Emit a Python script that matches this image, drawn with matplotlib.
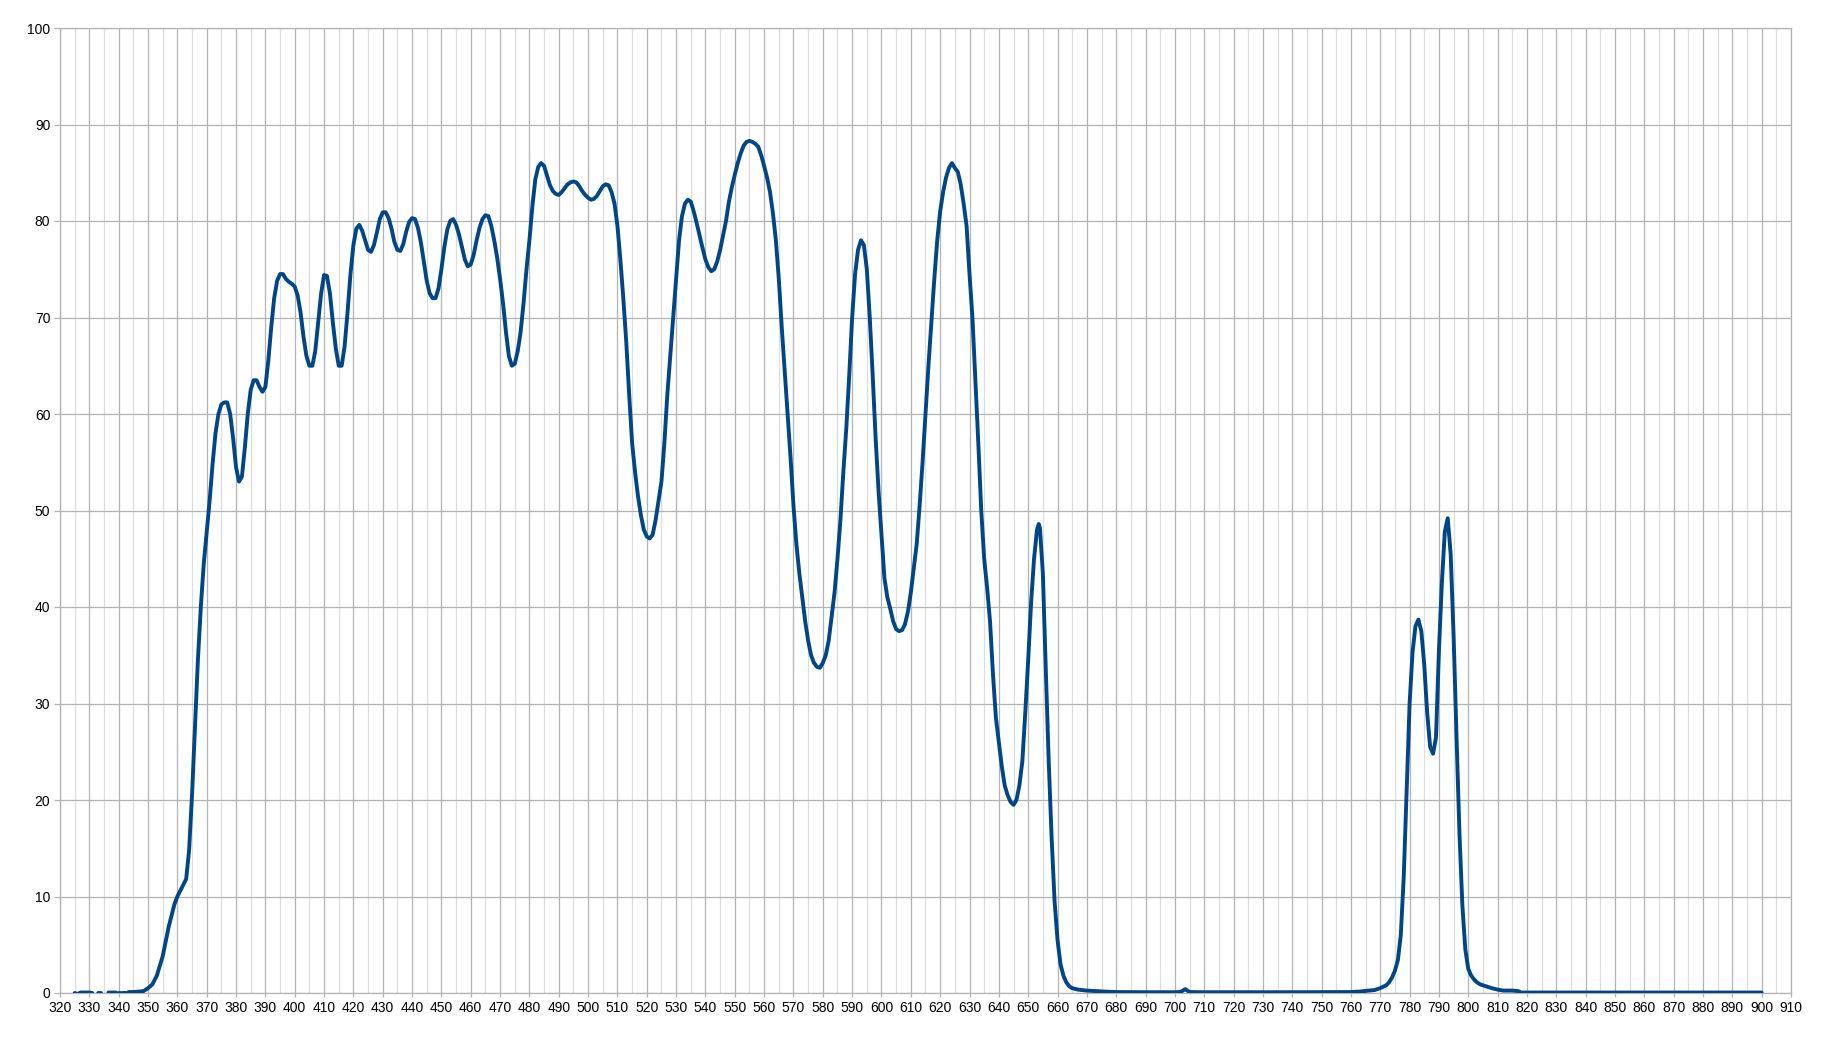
import numpy as np
import matplotlib.pyplot as plt

plt.rcParams['font.family'] = ['Liberation Sans', 'DejaVu Sans']

# wavelength (nm) and transmission (%), nan = gap in the record
wavelength = [325, 326, 327, 328, 329, 330, 331, 332, 333, 334, 335, 336.5, 337, 338, 339, 339.5,
              340, 340.6, 341, 341.4, 342.5, 343, 343.4, 345, 347, 348.5, 350, 351.5, 353, 354,
              355, 356, 357, 358, 359, 360, 361, 362, 363, 364, 365, 366, 367, 368, 369,
              370, 371, 372, 373, 374, 375, 376, 377, 378, 379, 380, 381, 382, 383, 384,
              385, 386, 387, 388, 389, 390, 391, 392, 393, 394, 395, 396, 397, 398, 399,
              400, 401, 402, 403, 404, 405, 406, 407, 408, 409, 410, 411, 412, 413, 414,
              415, 416, 417, 418, 419, 420, 421, 422, 423, 424, 425, 426, 427, 428, 429,
              430, 431, 432, 433, 434, 435, 436, 437, 438, 439, 440, 441, 442, 443, 444,
              445, 446, 447, 448, 449, 450, 451, 452, 453, 454, 455, 456, 457, 458, 459,
              460, 461, 462, 463, 464, 465, 466, 467, 468, 469, 470, 471, 472, 473, 474,
              475, 476, 477, 478, 479, 480, 481, 482, 483, 484, 485, 486, 487, 488, 489,
              490, 491, 492, 493, 494, 495, 496, 497, 498, 499, 500, 501, 502, 503, 504,
              505, 506, 507, 508, 509, 510, 511, 512, 513, 514, 515, 516, 517, 518, 519,
              520, 521, 522, 523, 524, 525, 526, 527, 528, 529, 530, 531, 532, 533, 534,
              535, 536, 537, 538, 539, 540, 541, 542, 543, 544, 545, 546, 547, 548, 549,
              550, 551, 552, 553, 554, 555, 556, 557, 558, 559, 560, 561, 562, 563, 564,
              565, 566, 567, 568, 569, 570, 571, 572, 573, 574, 575, 576, 577, 578, 579,
              580, 581, 582, 583, 584, 585, 586, 587, 588, 589, 590, 591, 592, 593, 594,
              595, 596, 597, 598, 599, 600, 601, 602, 603, 604, 605, 606, 607, 608, 609,
              610, 611, 612, 613, 614, 615, 616, 617, 618, 619, 620, 621, 622, 623, 624,
              625, 626, 627, 628, 629, 630, 631, 632, 633, 634, 635, 636, 637, 638, 639,
              640, 641, 642, 643, 644, 645, 646, 647, 648, 649, 650, 651, 652, 653, 653.6,
              654, 655, 656, 657, 658, 659, 660, 661, 662, 663, 664, 665, 667, 670, 673,
              676, 680, 690, 700, 702, 703.5, 705, 710, 720, 740, 760, 763, 766, 768, 770,
              772, 773, 774, 775, 776, 777, 778, 779, 780, 781, 782, 783, 784, 785, 786,
              787, 788, 789, 790, 791, 792, 793, 794, 795, 796, 797, 798, 799, 800, 801,
              802, 803, 804, 806, 808, 810, 812, 815, 817, 818, 900]

transmission = [0.0, -0.1, 0.05, 0.05, 0.05, 0.05, 0.0, np.nan, 0.0, 0.0, np.nan, 0.05, 0.05, 0.05, 0.05, np.nan,
                0.0, 0.0, np.nan, 0.0, 0.0, np.nan, 0.1, 0.1, 0.15, 0.2, 0.5, 0.9, 1.8, 2.8,
                3.8, 5.3, 6.8, 8.0, 9.2, 10.0, 10.6, 11.2, 11.8, 14.8, 20.5, 27.5, 34.5, 40.0, 44.5,
                47.7, 51.0, 54.8, 58.0, 60.0, 61.0, 61.2, 61.2, 60.0, 57.5, 54.5, 53.0, 53.5, 56.5, 60.0,
                62.5, 63.5, 63.5, 62.8, 62.3, 62.8, 65.5, 69.0, 72.0, 73.8, 74.5, 74.5, 74.0, 73.7, 73.5,
                73.2, 72.3, 70.5, 68.0, 66.0, 65.0, 65.0, 66.5, 69.5, 72.5, 74.4, 74.3, 72.5, 69.5, 66.8,
                65.0, 65.0, 67.0, 70.5, 74.5, 77.5, 79.2, 79.6, 79.0, 78.0, 77.0, 76.8, 77.5, 78.8, 80.2,
                80.9, 80.9, 80.3, 79.2, 77.8, 77.0, 76.9, 77.6, 78.9, 79.9, 80.3, 80.2, 79.3, 77.8, 75.8,
                73.8, 72.5, 72.0, 72.0, 73.0, 75.0, 77.3, 79.1, 80.0, 80.2, 79.6, 78.6, 77.3, 76.0, 75.3,
                75.5, 76.5, 78.0, 79.3, 80.2, 80.6, 80.5, 79.5, 78.0, 76.2, 74.0, 71.5, 68.5, 66.0, 65.0,
                65.2, 66.5, 68.5, 71.5, 75.0, 78.0, 81.5, 84.3, 85.6, 86.0, 85.7, 84.7, 83.7, 83.1, 82.8,
                82.7, 83.0, 83.4, 83.8, 84.0, 84.1, 84.0, 83.6, 83.1, 82.7, 82.4, 82.2, 82.3, 82.6, 83.1,
                83.6, 83.8, 83.7, 83.0, 81.8, 79.5, 76.0, 72.0, 67.5, 62.0, 57.0, 54.0, 51.5, 49.5, 48.0,
                47.3, 47.1, 47.5, 49.0, 51.0, 53.0, 57.0, 62.0, 66.0, 70.0, 74.0, 78.0, 80.5, 81.8, 82.2,
                82.0, 81.0, 79.8, 78.5, 77.2, 76.0, 75.2, 74.8, 75.0, 75.8, 77.0, 78.5, 80.0, 82.0, 83.5,
                84.8, 86.0, 87.0, 87.8, 88.2, 88.3, 88.2, 88.0, 87.7, 86.8, 85.7, 84.5, 83.0, 80.8, 78.0,
                74.0, 69.0, 64.5, 60.0, 55.5, 50.5, 46.5, 43.5, 41.0, 38.5, 36.5, 35.0, 34.2, 33.8, 33.7,
                34.2, 35.0, 36.5, 39.0, 41.5, 45.0, 49.0, 54.0, 58.5, 64.0, 70.0, 74.5, 77.0, 78.0, 77.5,
                75.0, 70.0, 64.0, 57.5, 52.0, 47.5, 43.0, 41.0, 39.8, 38.5, 37.7, 37.5, 37.6, 38.2, 39.5,
                41.5, 44.0, 46.5, 50.5, 55.0, 60.0, 65.0, 69.5, 74.0, 78.0, 81.0, 83.0, 84.5, 85.5, 86.0,
                85.5, 85.1, 83.8, 81.8, 79.5, 74.5, 70.0, 63.5, 57.0, 50.0, 45.0, 42.0, 38.5, 33.0, 28.5,
                26.0, 23.5, 21.5, 20.5, 19.8, 19.5, 20.0, 21.5, 24.0, 29.0, 34.5, 40.5, 45.0, 48.0, 48.6,
                48.2, 43.5, 33.5, 24.0, 16.0, 9.5, 5.5, 3.0, 1.8, 1.1, 0.7, 0.5, 0.35, 0.25, 0.2,
                0.15, 0.1, 0.08, 0.08, 0.1, 0.4, 0.1, 0.08, 0.08, 0.08, 0.1, 0.15, 0.25, 0.3, 0.5,
                0.8, 1.1, 1.6, 2.3, 3.4, 6.0, 12.0, 21.0, 30.0, 35.3, 38.0, 38.7, 37.5, 34.0, 29.0,
                25.5, 24.8, 26.5, 35.5, 42.5, 47.8, 49.2, 45.5, 37.0, 26.5, 16.5, 9.0, 4.5, 2.5, 1.8,
                1.4, 1.1, 0.9, 0.7, 0.5, 0.35, 0.25, 0.25, 0.2, 0.05, 0.05]

x_ticks = np.arange(320, 911, 10)
y_ticks = np.arange(0, 101, 10)

fig = plt.figure(figsize=(18.45, 10.38), dpi=100)
ax = fig.add_axes([60 / 1845, 45 / 1038, 1731 / 1845, 965 / 1038])

ax.plot(wavelength, transmission, color='#004586', lw=2.8, solid_capstyle='round', zorder=3)

ax.set_xlim(320, 910)
ax.set_ylim(0, 100)
ax.set_xticks(x_ticks)
ax.set_yticks(y_ticks)
ax.set_xticks(np.arange(325, 910, 10), minor=True)

ax.grid(which='major', color='#b3b3b3', lw=0.9)
ax.grid(which='minor', axis='x', color='#dddddd', lw=0.9)
ax.tick_params(which='major', axis='x', length=3, width=0.9, color='#b3b3b3', labelsize=10, pad=3)
ax.tick_params(which='major', axis='y', length=4, width=0.9, color='#b3b3b3', labelsize=10, pad=3)
ax.tick_params(which='minor', length=0)
for s in ax.spines.values():
    s.set_color('#b3b3b3')
    s.set_linewidth(0.9)

fig.savefig('out.png', dpi=100)
